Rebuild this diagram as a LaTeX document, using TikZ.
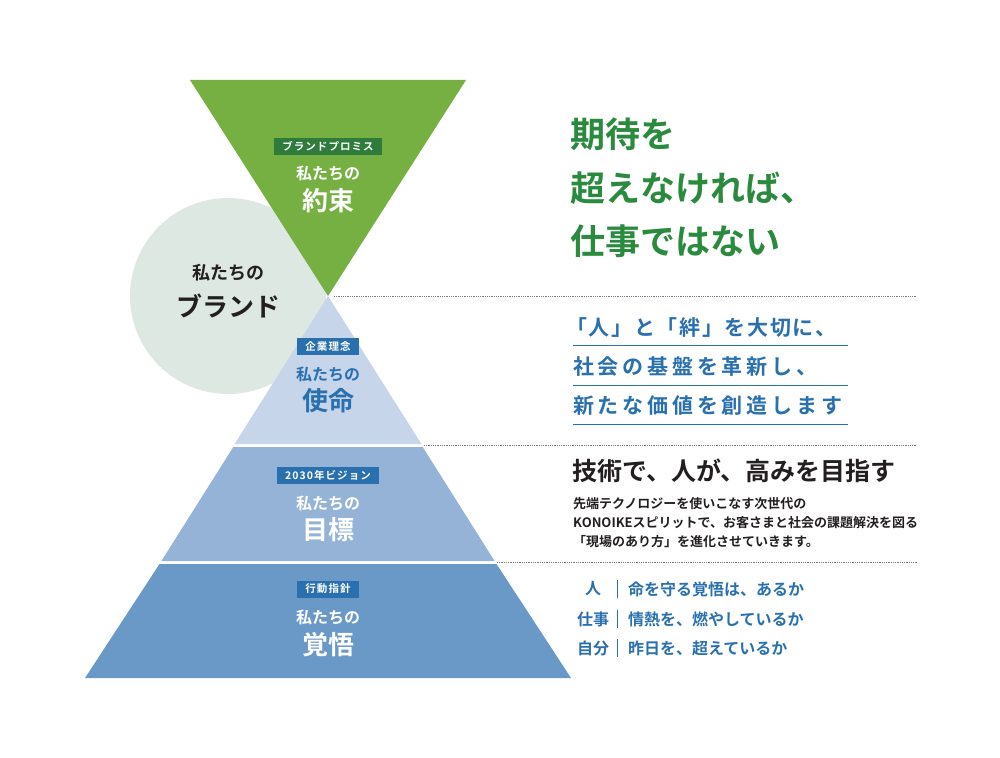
\documentclass[tikz,border=0pt]{standalone}
\usepackage{fontspec}
\usepackage{xcolor}
\usepackage{tikz}
\usetikzlibrary{positioning,calc}
\setmainfont{Noto Sans CJK JP}[BoldFont={Noto Sans CJK JP Bold}]
\definecolor{leaf}{HTML}{76B043}
\definecolor{leafdk}{HTML}{2E7B3B}
\definecolor{leaftx}{HTML}{2A8A3E}
\definecolor{haze}{HTML}{DEE8E3}
\definecolor{skylt}{HTML}{C7D5EB}
\definecolor{skymd}{HTML}{95B3D7}
\definecolor{skydk}{HTML}{6A99C8}
\definecolor{navy}{HTML}{2A70AF}
\definecolor{ink}{HTML}{231F20}
\definecolor{mute}{HTML}{7A7A7A}

\begin{document}
\begin{tikzpicture}[x=1pt,y=-1pt,
  every node/.style={font=\bfseries,inner sep=0pt,text=ink},
  tag/.style={fill=#1,text=white,font=\fontsize{10.5}{12}\selectfont\bfseries\addfontfeature{LetterSpace=10},minimum height=17pt,inner xsep=8pt},
  sub/.style={font=\fontsize{16}{18}\selectfont\bfseries},
  head/.style={font=\fontsize{26}{28}\selectfont\bfseries},
  guide/.style={mute,densely dotted,line width=0.8pt},
  rule/.style={navy,line width=1pt},
  creed/.style={anchor=west,text=navy,font=\fontsize{21}{23}\selectfont\bfseries\addfontfeature{LetterSpace=18}}]
  \useasboundingbox (0,0) rectangle (1000,757);
  % circle and inverted triangle
  \fill[haze] (228,296) circle (98);
  \fill[leaf] (190,80) -- (466,80) -- (328,296) -- cycle;
  % pyramid layers
  \fill[skylt] (328,296) -- (421.4,444) -- (234.6,444) -- cycle;
  \fill[skymd] (233.3,447) -- (422.7,447) -- (494.6,561) -- (161.4,561) -- cycle;
  \fill[skydk] (159.5,564) -- (496.5,564) -- (571,678) -- (85,678) -- cycle;
  % dotted guides
  \coordinate (g1) at (334,296);
  \coordinate (g2) at (424,445);
  \coordinate (g3) at (497,562);
  \draw[guide] (g1) -- (917,296);
  \draw[guide] (g2) -- (917,445);
  \draw[guide] (g3) -- (917,562);

  % labels inside shapes
  \node[tag=leafdk] (promise) at (328,146) {ブランドプロミス};
  \node[sub,text=white] (p1) at (328,173) {私たちの};
  \node[head,text=white] (p2) at (328,201) {約束};
  \node[tag=navy] (rinen) at (328,346) {企業理念};
  \node[sub,text=navy] (r1) at (328,374) {私たちの};
  \node[head,text=navy] (r2) at (328,401) {使命};
  \node[tag=navy] (vision) at (328,475) {2030年ビジョン};
  \node[sub,text=white] (v1) at (328,503) {私たちの};
  \node[head,text=white] (v2) at (328,530) {目標};
  \node[tag=navy] (shishin) at (328,589) {行動指針};
  \node[sub,text=white] (s1) at (328,617) {私たちの};
  \node[head,text=white] (s2) at (328,645) {覚悟};
  \node[font=\fontsize{18}{20}\selectfont\bfseries] (b1) at (228,273) {私たちの};
  \node[font=\fontsize{26}{28}\selectfont\bfseries] (b2) at (228,306) {ブランド};

  % right column
  \node[anchor=west,text=leaftx,font=\fontsize{35}{53.5}\selectfont\bfseries,align=left] (motto) at (570,188)
    {期待を\\超えなければ、\\仕事ではない};
  \node[creed] (m1) at (566,328) {\addfontfeature{LetterSpace=8}「人」と「絆」を大切に、};
  \node[creed] (m2) at (573,367) {社会の基盤を革新し、};
  \node[creed] (m3) at (573,406) {新たな価値を創造します};
  \draw[rule] (573,345) -- (848,345);
  \draw[rule] (573,385) -- (848,385);
  \draw[rule] (573,424) -- (848,424);
  \node[anchor=west,font=\fontsize{25}{27}\selectfont\bfseries] (vt) at (572,471) {技術で、人が、高みを目指す};
  \node[anchor=north west,align=left,font=\fontsize{13}{19}\selectfont\bfseries] (vb) at (573,497)
    {先端テクノロジーを使いこなす次世代の\\KONOIKEスピリットで、お客さまと社会の課題解決を図る\\「現場のあり方」を進化させていきます。};
  \foreach \who/\txt/\yy in {人/命を守る覚悟は、あるか/589,仕事/情熱を、燃やしているか/619,自分/昨日を、超えているか/648}{
    \node[text=navy,font=\fontsize{16}{18}\selectfont\bfseries] (w\yy) at (593,\yy) {\who};
    \node[anchor=west,text=navy,font=\fontsize{16}{18}\selectfont\bfseries] (t\yy) at (628,\yy) {\txt};
    \draw[navy,line width=0.8pt] (617,\yy-9) -- (617,\yy+9);
  }
\end{tikzpicture}
\end{document}
